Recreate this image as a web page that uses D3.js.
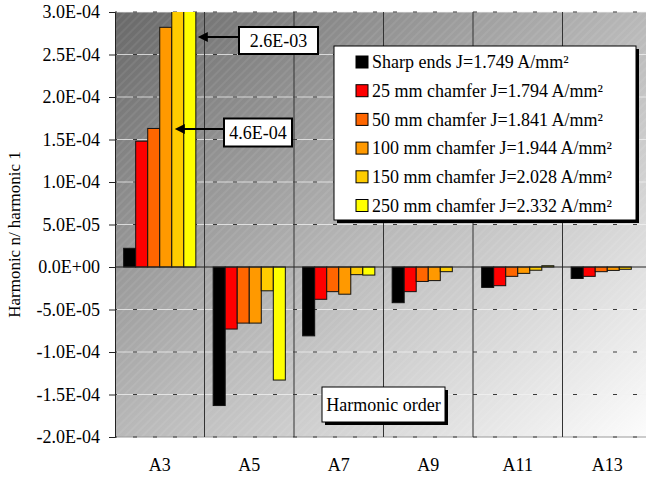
<!DOCTYPE html>
<html>
<head>
<meta charset="utf-8">
<script src="https://cdn.jsdelivr.net/npm/d3@7"></script>
<style>
  body { margin: 0; background: #fff; }
  svg { display: block; }
  text { font-family: "Liberation Serif", "Times New Roman", serif; fill: #000; }
</style>
</head>
<body>
<div id="chart"><svg width="646" height="478"></svg></div>
<script>
const categories = ['A3', 'A5', 'A7', 'A9', 'A11', 'A13'];
const seriesNames = [
  'Sharp ends J=1.749 A/mm²',
  '25 mm chamfer J=1.794 A/mm²',
  '50 mm chamfer J=1.841 A/mm²',
  '100 mm chamfer J=1.944 A/mm²',
  '150 mm chamfer J=2.028 A/mm²',
  '250 mm chamfer J=2.332 A/mm²',
];
const seriesColors = ['#000000', '#ff0000', '#ff6600', '#ff9900', '#ffcc00', '#ffff00'];
const sharpEnds = [2.2e-5, -1.63e-4, -8.1e-5, -4.2e-5, -2.4e-5, -1.35e-5];
const chamfer25 = [1.48e-4, -7.3e-5, -3.8e-5, -2.9e-5, -2.2e-5, -1.1e-5];
const chamfer50 = [1.63e-4, -6.6e-5, -2.9e-5, -1.7e-5, -1.1e-5, -5.5e-6];
const chamfer100 = [2.82e-4, -6.6e-5, -3.2e-5, -1.6e-5, -7.5e-6, -4e-6];
const chamfer150 = [4.6e-4, -2.8e-5, -9e-6, -5.5e-6, -3.8e-6, -2.7e-6];
const chamfer250 = [2.6e-3, -1.33e-4, -9.5e-6, 0, 1.5e-6, 0];
const yTicks = [-2e-4, -1.5e-4, -1e-4, -5e-5, 0, 5e-5, 1e-4, 1.5e-4, 2e-4, 2.5e-4, 3e-4];
const yDomain = [-2e-4, 3e-4];
const callouts = [
  { label: '2.6E-03', series: 5 },
  { label: '4.6E-04', series: 4 },
];

const allSeries = [sharpEnds, chamfer25, chamfer50, chamfer100, chamfer150, chamfer250];

const SVG = d3.select('#chart svg');
const LEFT = 115;
const TOP = 12;
const BOTTOM = 437;
const RIGHT = 652;

const X0 = d3.scaleBand().domain(categories).range([LEFT, RIGHT]);
const X1 = d3.scaleBand().domain(d3.range(6)).range([0, X0.bandwidth()]).paddingOuter(0.72);
const Y = d3.scaleLinear().domain(yDomain).range([BOTTOM, TOP]);

const fmt = (v) => {
  if (v === 0) return '0.0E+00';
  const [m, e] = v.toExponential(1).split('e');
  const n = Math.abs(+e);
  return `${m}E${+e < 0 ? '-' : '+'}${n < 10 ? '0' + n : n}`;
};

// defs: gradient, hatching, clip
const defs = SVG.append('defs');
const grad = defs.append('linearGradient').attr('id', 'bg')
  .attr('x1', 0).attr('y1', 0).attr('x2', 1).attr('y2', 1);
grad.append('stop').attr('offset', 0).attr('stop-color', '#686868');
grad.append('stop').attr('offset', 0.5).attr('stop-color', '#b8b8b8');
grad.append('stop').attr('offset', 1).attr('stop-color', '#fdfdfd');

const hatch = defs.append('pattern').attr('id', 'hatch')
  .attr('patternUnits', 'userSpaceOnUse')
  .attr('width', 6).attr('height', 6)
  .attr('patternTransform', 'rotate(45)');
hatch.append('line').attr('x1', 1).attr('x2', 1).attr('y1', 0).attr('y2', 6)
  .style('stroke', '#ffffff').style('stroke-opacity', 0.18).style('stroke-width', 0.8);

defs.append('clipPath').attr('id', 'plotClip')
  .append('rect').attr('x', LEFT).attr('y', TOP).attr('width', RIGHT - LEFT).attr('height', BOTTOM - TOP);

SVG.append('rect').attr('x', LEFT).attr('y', TOP).attr('width', RIGHT - LEFT).attr('height', BOTTOM - TOP)
  .style('fill', 'url(#bg)');
SVG.append('rect').attr('x', LEFT).attr('y', TOP).attr('width', RIGHT - LEFT).attr('height', BOTTOM - TOP)
  .style('fill', 'url(#hatch)');

// grid lines
const GRID = SVG.append('g').attr('id', 'grid');
yTicks.filter((t) => t !== 0).forEach((t) => {
  GRID.append('line')
    .attr('x1', LEFT).attr('x2', RIGHT).attr('y1', Y(t)).attr('y2', Y(t))
    .style('stroke', t === yDomain[0] ? '#9a9a9a' : '#f2f2f2')
    .style('stroke-opacity', t === yDomain[0] ? 1 : 0.75)
    .style('stroke-width', 1);
  GRID.append('line')
    .attr('x1', LEFT).attr('x2', RIGHT).attr('y1', Y(t)).attr('y2', Y(t))
    .style('stroke', '#3a3a3a')
    .style('stroke-width', 1)
    .style('stroke-dasharray', '4,16')
    .style('stroke-dashoffset', 2);
});

categories.forEach((c, i) => {
  if (i === 0) return;
  GRID.append('line')
    .attr('x1', X0(c)).attr('x2', X0(c)).attr('y1', TOP).attr('y2', BOTTOM)
    .style('stroke', '#333').style('stroke-width', 1);
});

// bars
const BARS = SVG.append('g').attr('id', 'bars').attr('clip-path', 'url(#plotClip)');
allSeries.forEach((vals, s) => {
  BARS.append('g')
    .selectAll('rect')
    .data(vals.map((v, i) => ({ cat: categories[i], v })))
    .join('rect')
    .attr('x', (d) => X0(d.cat) + X1(s))
    .attr('width', X1.bandwidth())
    .attr('y', (d) => Y(Math.max(0, d.v)))
    .attr('height', (d) => Math.abs(Y(d.v) - Y(0)))
    .style('fill', seriesColors[s])
    .style('stroke', '#111')
    .style('stroke-width', 1);
});

// zero line and left axis
SVG.append('line').attr('x1', LEFT).attr('x2', RIGHT).attr('y1', Y(0)).attr('y2', Y(0))
  .style('stroke', '#222').style('stroke-width', 1);

const Y_AXIS = d3.axisLeft(Y).tickValues(yTicks).tickFormat(fmt).tickSize(6).tickPadding(9);
const Y_AXIS_G = SVG.append('g').attr('transform', `translate(${LEFT},0)`);
Y_AXIS(Y_AXIS_G);
Y_AXIS_G.attr('font-family', '"Liberation Serif", "Times New Roman", serif').attr('font-size', 18);
Y_AXIS_G.select('.domain').style('stroke', '#222');
Y_AXIS_G.selectAll('.tick line').style('stroke', '#222');
Y_AXIS_G.selectAll('.tick text')
  .style('font-family', '"Liberation Serif", "Times New Roman", serif')
  .style('font-size', '18px').style('fill', '#000');

// x labels
SVG.append('g').selectAll('text')
  .data(categories)
  .join('text')
  .attr('x', (d) => X0(d) + X0.bandwidth() / 2)
  .attr('y', 471)
  .style('text-anchor', 'middle')
  .style('font-size', '18px')
  .text((d) => d);

// y title
SVG.append('text')
  .attr('transform', `translate(20,${(TOP + BOTTOM) / 2 + 10}) rotate(-90)`)
  .style('text-anchor', 'middle')
  .style('font-size', '17px')
  .text('Harmonic n/ harmonic 1');

// callouts for clipped bars
const boxes = [
  { x: 239, y: 27, w: 79, h: 27, ay: 37, tipDx: 2 },
  { x: 224, y: 118.5, w: 68, h: 28, ay: 129, tipDx: -9 },
];
callouts.forEach((c, k) => {
  const b = boxes[k];
  const barRight = X0(categories[0]) + X1(c.series) + X1.bandwidth();
  const tip = barRight + b.tipDx;
  const g = SVG.append('g');
  g.append('line').attr('x1', b.x).attr('x2', tip + 8).attr('y1', b.ay).attr('y2', b.ay)
    .style('stroke', '#000').style('stroke-width', 2);
  g.append('path')
    .attr('d', `M${tip},${b.ay}L${tip + 10},${b.ay - 5}L${tip + 10},${b.ay + 5}Z`)
    .style('fill', '#000');
  g.append('rect').attr('x', b.x).attr('y', b.y).attr('width', b.w).attr('height', b.h)
    .style('fill', '#fff').style('stroke', '#000').style('stroke-width', 2);
  g.append('text').attr('x', b.x + b.w / 2).attr('y', b.y + b.h / 2)
    .attr('dy', '0.35em').style('text-anchor', 'middle').style('font-size', '18px')
    .text(c.label);
});

// legend
const LX = 334, LY = 46, LW = 302, LH = 174;
const LEG = SVG.append('g').attr('id', 'legend');
LEG.append('rect').attr('x', LX + 3).attr('y', LY + 3).attr('width', LW).attr('height', LH).style('fill', '#000');
LEG.append('rect').attr('x', LX).attr('y', LY).attr('width', LW).attr('height', LH)
  .style('fill', '#fff').style('stroke', '#000').style('stroke-width', 1);
seriesNames.forEach((name, i) => {
  const cy = LY + 16 + i * 28.7;
  LEG.append('rect').attr('x', LX + 22).attr('y', cy - 6).attr('width', 12).attr('height', 12)
    .style('fill', seriesColors[i]).style('stroke', '#000').style('stroke-width', 1);
  LEG.append('text').attr('x', LX + 38).attr('y', cy).attr('dy', '0.35em')
    .style('font-size', '18px').text(name);
});

// x title box
const TX = 322, TY = 387, TW = 123, TH = 35;
SVG.append('rect').attr('x', TX + 3).attr('y', TY + 3).attr('width', TW).attr('height', TH).style('fill', '#000');
SVG.append('rect').attr('x', TX).attr('y', TY).attr('width', TW).attr('height', TH)
  .style('fill', '#fff').style('stroke', '#000').style('stroke-width', 1);
SVG.append('text').attr('x', TX + TW / 2).attr('y', TY + TH / 2).attr('dy', '0.35em')
  .style('text-anchor', 'middle').style('font-size', '18px').text('Harmonic order');
</script>
</body>
</html>
